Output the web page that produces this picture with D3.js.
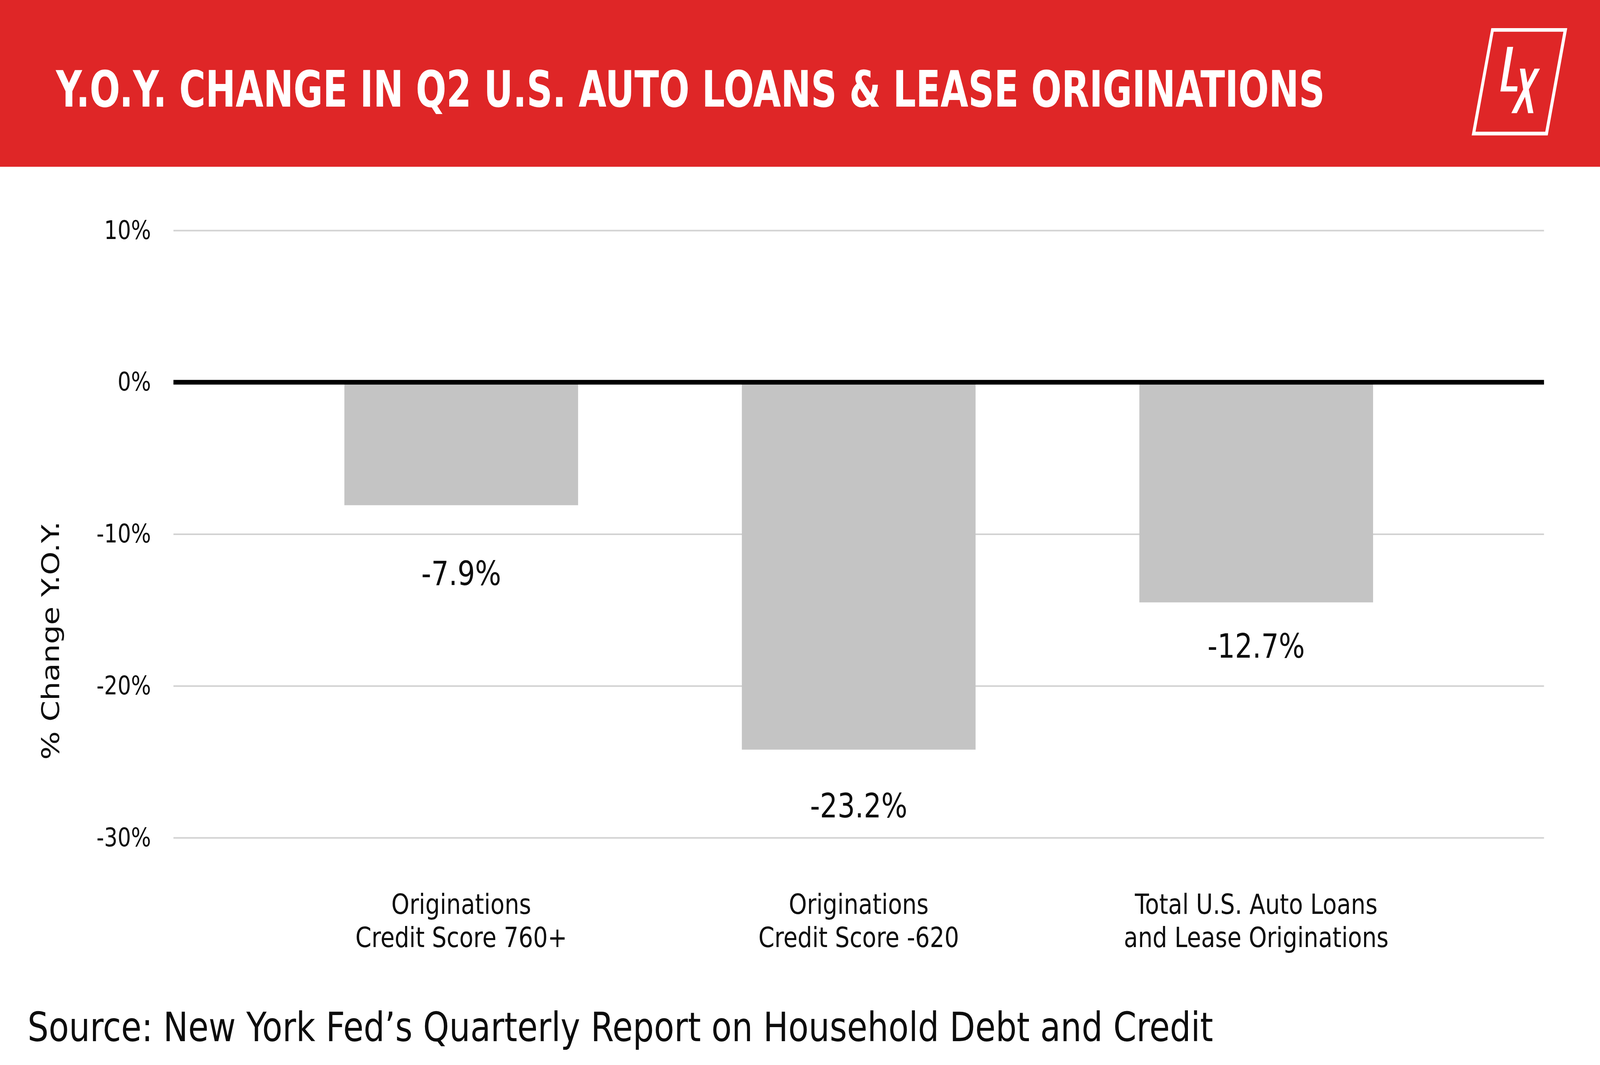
<!DOCTYPE html>
<html>
<head>
<meta charset="utf-8">
<script src="https://cdn.jsdelivr.net/npm/d3@7"></script>
<style>
  html, body { margin: 0; padding: 0; background: #fff; overflow: hidden; }
  svg { display: block; width: 100vw; height: 100vh; }
  text { font-family: "DejaVu Sans", "Noto Sans", sans-serif; }
</style>
</head>
<body>
<script>
// chart data
var categoryLines = [
  ["Originations", "Credit Score 760+"],
  ["Originations", "Credit Score -620"],
  ["Total U.S. Auto Loans", "and Lease Originations"]
];
var barValues = [-8.1, -24.2, -14.5];
var labelValues = [-7.9, -23.2, -12.7];
var valueLabels = ["-7.9%", "-23.2%", "-12.7%"];
var yTickValues = [10, 0, -10, -20, -30];
var yTickLabels = ["10%", "0%", "-10%", "-20%", "-30%"];

var titleText = "Y.O.Y. CHANGE IN Q2 U.S. AUTO LOANS & LEASE ORIGINATIONS";
var yAxisTitle = "% Change Y.O.Y.";
var sourceText = "Source: New York Fed\u2019s Quarterly Report on Household Debt and Credit";

// drawing is laid out on a 5000x2727 board, stretched to the window
var W = 5000, H = 2727;
var plotLeft = 542, plotRight = 4825, plotTop = 590, plotBottom = 2145;

var svg = d3.select("body").append("svg")
  .attr("viewBox", "0 0 " + W + " " + H)
  .attr("preserveAspectRatio", "none");

// header band
svg.append("rect")
  .attr("x", 0).attr("y", 0)
  .attr("width", W).attr("height", 427)
  .attr("fill", "#df2627");

svg.append("text")
  .attr("x", 175).attr("y", 273)
  .attr("fill", "#fff")
  .attr("font-size", 128)
  .attr("font-weight", "bold")
  .attr("textLength", 3965)
  .attr("lengthAdjust", "spacingAndGlyphs")
  .text(titleText);

// logo (drawn in 3x zoom coords)
var logo = svg.append("g").attr("transform", "translate(4500,0) scale(0.3333)").attr("fill", "#fff");
logo.append("path")
  .attr("fill-rule", "evenodd")
  .attr("d", "M481,216L1193,216L1010,1040L297,1040Z M503,244L333,1012L987,1012L1157,244Z");
logo.append("path")
  .attr("d", "M631,360L686,360L622,663L727,663L722,703L566,703Z");
logo.append("path")
  .attr("d", "M749,527L798,527L820,635L886,527L937,527L833,687L876,869L826,869L797,743L720,869L669,869L780,687Z");

// scales
var x = d3.scaleBand()
  .domain(d3.range(categoryLines.length))
  .range([plotLeft, plotRight])
  .paddingInner(0.412)
  .paddingOuter(0.43);

var y = d3.scaleLinear().domain([-30, 10]).range([plotBottom, plotTop]);

// grid + tick labels
var yAxis = d3.axisLeft(y)
  .tickValues(yTickValues)
  .tickSize(-(plotRight - plotLeft))
  .tickPadding(70)
  .tickFormat(function (d, i) { return yTickLabels[i]; });

var gy = svg.append("g").attr("transform", "translate(" + plotLeft + ",0)").call(yAxis);
gy.select(".domain").remove();
gy.selectAll(".tick line").attr("stroke", "#d2d2d2").attr("stroke-width", 4);
gy.selectAll(".tick text")
  .attr("font-size", 66)
  .attr("fill", "#0d0d0d")
  .style("font-family", "'DejaVu Sans', sans-serif");

// bars
svg.selectAll("rect.bar")
  .data(barValues)
  .enter()
  .append("rect")
  .attr("class", "bar")
  .attr("x", function (d, i) { return x(i); })
  .attr("width", x.bandwidth())
  .attr("y", function (d) { return Math.min(y(0), y(d)); })
  .attr("height", function (d) { return Math.abs(y(d) - y(0)); })
  .attr("fill", "#c4c4c4");

// zero line
svg.append("line")
  .attr("x1", plotLeft).attr("x2", plotRight)
  .attr("y1", y(0)).attr("y2", y(0))
  .attr("stroke", "#000")
  .attr("stroke-width", 12);

// value labels
svg.selectAll("text.val")
  .data(valueLabels)
  .enter()
  .append("text")
  .attr("class", "val")
  .attr("x", function (d, i) { return x(i) + x.bandwidth() / 2; })
  .attr("y", function (d, i) { return y(labelValues[i]) + 212; })
  .attr("text-anchor", "middle")
  .attr("font-size", 86)
  .attr("fill", "#0d0d0d")
  .text(function (d) { return d; });

// category labels
var cat = svg.selectAll("text.cat")
  .data(categoryLines)
  .enter()
  .append("text")
  .attr("class", "cat")
  .attr("text-anchor", "middle")
  .attr("font-size", 72)
  .attr("fill", "#0d0d0d");

cat.selectAll("tspan")
  .data(function (d, i) { return d.map(function (s) { return { s: s, i: i }; }); })
  .enter()
  .append("tspan")
  .attr("x", function (d) { return x(d.i) + x.bandwidth() / 2; })
  .attr("y", function (d, j) { return 2340 + j * 85; })
  .text(function (d) { return d.s; });

// y axis title
svg.append("text")
  .attr("transform", "translate(184,1640) rotate(-90)")
  .attr("text-anchor", "middle")
  .attr("font-size", 76)
  .attr("fill", "#0d0d0d")
  .attr("textLength", 611)
  .attr("lengthAdjust", "spacingAndGlyphs")
  .text(yAxisTitle);

// source
svg.append("text")
  .attr("x", 86).attr("y", 2666)
  .attr("font-size", 104)
  .attr("fill", "#0d0d0d")
  .attr("textLength", 3705)
  .attr("lengthAdjust", "spacingAndGlyphs")
  .text(sourceText);
</script>
</body>
</html>
